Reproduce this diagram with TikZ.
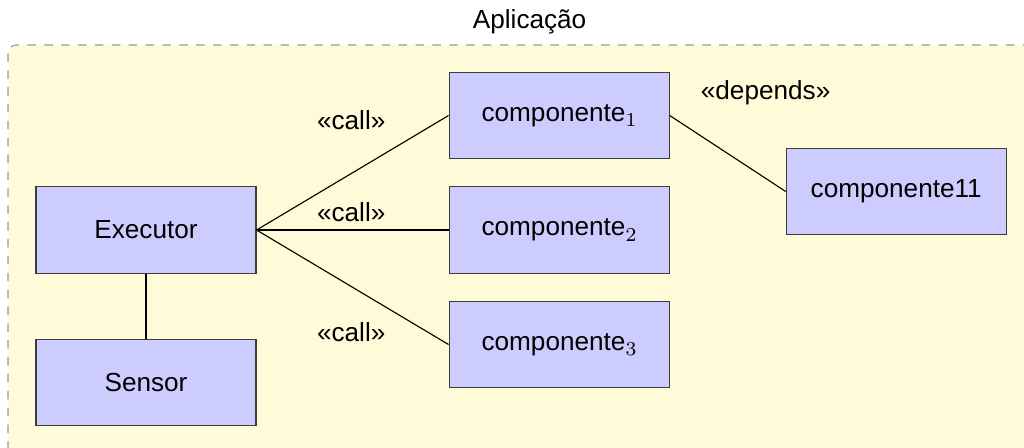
\documentclass[tikz,border=0pt]{standalone}
\usepackage{fontspec}
\setmainfont{Liberation Sans}
\usepackage{tikz}
\usetikzlibrary{positioning}
\definecolor{appfill}{RGB}{255,250,216}
\definecolor{boxfill}{RGB}{204,204,255}
\definecolor{boxline}{RGB}{60,60,60}
\newcommand{\compsub}[1]{\raisebox{-0.4ex}{\fontsize{7.2}{8}\selectfont$#1$}}

\begin{document}
\begin{tikzpicture}[scale=1.0,
	compbox/.style={draw=boxline,fill=boxfill,minimum width=2.75cm,minimum height=1.08cm,inner sep=0pt,font=\fontsize{9.3}{11}\selectfont},
	stereo/.style={font=\fontsize{9.3}{11}\selectfont,inner sep=0pt},
	link/.style={draw=black,line width=0.4pt}]
	\clip (0,0) rectangle (12.8,-5.5875);
	\draw[draw=black!40,dashed,fill=appfill,rounded corners=3pt] (0.1,-0.5625) rectangle (13.2,-6.0);
	\node[stereo] (title) at (6.62,-0.275) {Aplicação};
	\node[compbox] (exec) at (1.825,-2.875) {Executor};
	  \node[compbox,below=0.8125cm of exec] (sensor) {Sensor};
	  \node[compbox,right=2.4cm of exec] (comp2) {componente\compsub{2}};
			\node[compbox,above=0.3375cm of comp2] (comp1) {componente\compsub{1}};
			\node[compbox,below=0.3375cm of comp2] (comp3) {componente\compsub{3}};
			\node[compbox,anchor=north west] (comp11) at ([xshift=1.45cm,yshift=-0.95cm]comp1.north east) {componente11};
	\node[stereo] (call1) at (4.39,-1.5) {«call»};
	\node[stereo] (call2) at (4.39,-2.65) {«call»};
	\node[stereo] (call3) at (4.39,-4.15) {«call»};
	\node[stereo] (depends) at (9.57,-1.16) {«depends»};
  \draw[link] (exec.east) -- (comp1.west);
	\draw[link] (exec.east) -- (comp2.west);
	\draw[link] (exec.east) -- (comp3.west);
	\draw[link] (comp1.east) -- (comp11.west);
	\draw[link] (exec.south) -- (sensor.north);
\end{tikzpicture}
\end{document}
